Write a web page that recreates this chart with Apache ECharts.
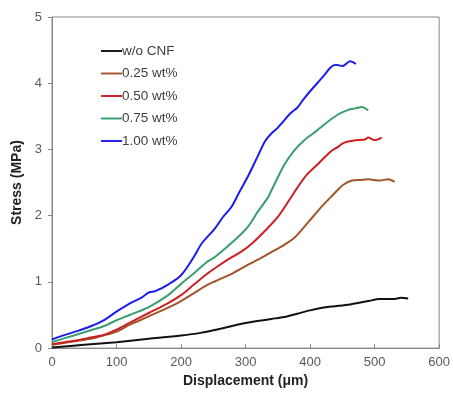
<!DOCTYPE html>
<html><head><meta charset="utf-8">
<script src="https://cdn.jsdelivr.net/npm/echarts@6/dist/echarts.min.js"></script>
<style>html,body{margin:0;padding:0;background:#fff}#c{width:453px;height:393px}</style>
</head><body><div id="c"></div>
<script>
const seriesNames = ['w/o CNF','0.25 wt%','0.50 wt%','0.75 wt%','1.00 wt%'];
const colors = ['#111111','#a0552a','#cc2020','#3a9e70','#1c1cee'];
const xTicks = [0,100,200,300,400,500,600];
const yTicks = [0,1,2,3,4,5];

const blackX = [0,50,100,150,200,230,260,300,340,360,380,400,427,462,490,508,529,541,552];
const blackY = [0.01,0.05,0.09,0.14,0.19,0.23,0.29,0.38,0.44,0.47,0.52,0.57,0.62,0.66,0.71,0.74,0.74,0.76,0.75];

const brownX = [0,20,40,60,80,100,120,150,180,200,220,240,253,280,304,320,340,360,376,390,404,420,432,442,452,465,478,490,508,521,531];
const brownY = [0.05,0.08,0.11,0.14,0.19,0.25,0.35,0.48,0.61,0.71,0.83,0.95,1.01,1.13,1.26,1.34,1.45,1.56,1.67,1.82,1.98,2.16,2.28,2.38,2.47,2.53,2.54,2.55,2.53,2.55,2.51];

const redX = [0,20,40,60,80,100,120,150,180,200,220,240,253,275,294,310,329,350,370,380,395,411,432,442,452,470,485,490,500,511];
const redY = [0.06,0.09,0.12,0.16,0.20,0.28,0.38,0.53,0.68,0.80,0.96,1.12,1.21,1.35,1.46,1.58,1.76,1.98,2.27,2.42,2.62,2.77,2.97,3.03,3.10,3.14,3.15,3.18,3.14,3.18];

const greenX = [0,20,40,60,80,100,120,150,180,200,220,240,253,275,294,305,319,335,340,360,375,391,410,421,442,457,470,480,490];
const greenY = [0.09,0.15,0.21,0.27,0.33,0.42,0.50,0.62,0.80,0.97,1.13,1.30,1.38,1.56,1.73,1.85,2.06,2.28,2.38,2.77,2.98,3.14,3.28,3.37,3.52,3.59,3.62,3.64,3.59];

const blueX = [0,20,40,60,80,100,120,140,150,160,180,200,220,232,252,265,278,290,304,318,330,340,350,370,380,390,401,421,432,440,450,462,471];
const blueY = [0.13,0.20,0.26,0.33,0.42,0.55,0.67,0.77,0.84,0.86,0.96,1.10,1.38,1.58,1.80,1.98,2.13,2.35,2.60,2.88,3.12,3.24,3.33,3.55,3.63,3.76,3.89,4.11,4.24,4.28,4.26,4.33,4.29];

const allX = [blackX, brownX, redX, greenX, blueX];
const allY = [blackY, brownY, redY, greenY, blueY];

const chart = echarts.init(document.getElementById('c'));
const labelFont = {color:'#595959', fontSize:13, fontFamily:'Liberation Sans, Arial, sans-serif'};
chart.setOption({
  animation:false,
  backgroundColor:'#fff',
  grid:{left:52, top:17, right:10, bottom:40, show:true, borderColor:'#888', borderWidth:1},
  legend:{
    show:true, orient:'vertical', left:96, top:39, itemGap:8.5,
    itemWidth:21, itemHeight:14,
    icon:'path://M0,6 L22,6 L22,8 L0,8 Z',
    textStyle:{color:'#404040', fontSize:13.5, fontFamily:'Liberation Sans, Arial, sans-serif', padding:[0,0,0,-5]},
    data: seriesNames
  },
  xAxis:{
    type:'value', min:0, max:600, interval:100,
    name:'Displacement (μm)', nameLocation:'middle', nameGap:25,
    nameTextStyle:{color:'#222', fontSize:14, fontWeight:'bold', fontFamily:'Liberation Sans, Arial, sans-serif'},
    axisLine:{show:true, lineStyle:{color:'#888'}},
    axisTick:{show:true, inside:true, length:4, lineStyle:{color:'#888'}},
    axisLabel:Object.assign({margin:8}, labelFont),
    splitLine:{show:false}
  },
  yAxis:{
    type:'value', min:0, max:5, interval:1,
    name:'Stress (MPa)', nameLocation:'middle', nameGap:27, nameRotate:90,
    nameTextStyle:{color:'#222', fontSize:14, fontWeight:'bold', fontFamily:'Liberation Sans, Arial, sans-serif'},
    axisLine:{show:true, lineStyle:{color:'#888'}},
    axisTick:{show:true, inside:false, length:4, lineStyle:{color:'#888'}},
    axisLabel:Object.assign({margin:10}, labelFont),
    splitLine:{show:false}
  },
  series: seriesNames.map((n,i)=>({
    name:n, type:'line', showSymbol:false, smooth:0.3,
    data: allX[i].map((x,j)=>[x, allY[i][j]]),
    lineStyle:{color:colors[i], width:2},
    itemStyle:{color:colors[i]}
  }))
});
</script></body></html>
